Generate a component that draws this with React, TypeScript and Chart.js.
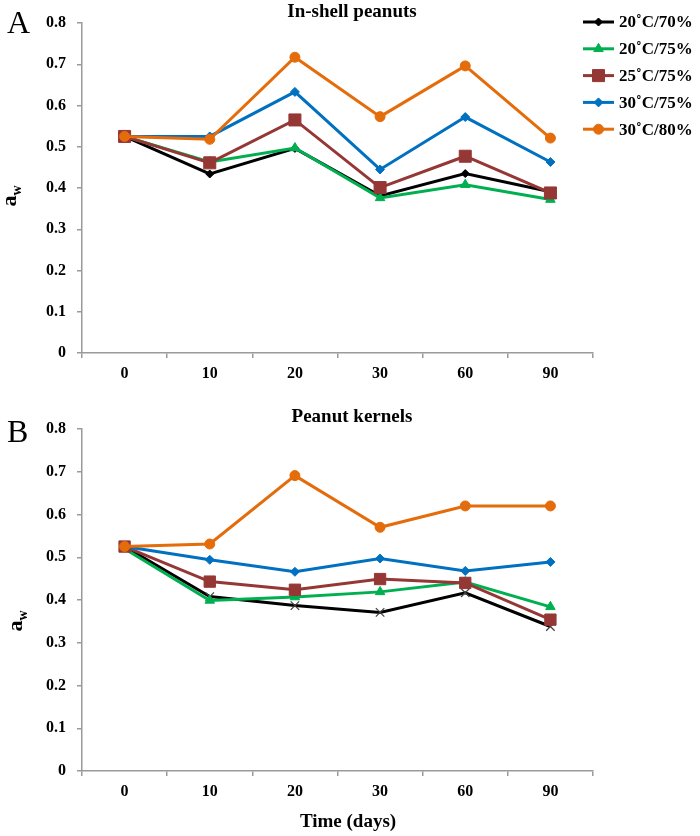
import React, { useEffect, useRef } from 'react';
import { Chart, registerables } from 'chart.js';
import { drawPoint } from 'chart.js/helpers';

Chart.register(...registerables);

// ---------- data ----------
const days = ['0', '10', '20', '30', '60', '90'];
const seriesNames = ['20˚C/70%', '20˚C/75%', '25˚C/75%', '30˚C/75%', '30˚C/80%'];

// In-shell peanuts
const shell2070 = [0.525, 0.434, 0.496, 0.381, 0.435, 0.391];
const shell2075 = [0.525, 0.463, 0.497, 0.376, 0.408, 0.372];
const shell2575 = [0.525, 0.461, 0.565, 0.401, 0.477, 0.388];
const shell3075 = [0.525, 0.525, 0.633, 0.445, 0.572, 0.463];
const shell3080 = [0.525, 0.518, 0.717, 0.573, 0.696, 0.521];

// Peanut kernels
const kernel2070 = [0.525, 0.408, 0.387, 0.371, 0.417, 0.338];
const kernel2075 = [0.52, 0.399, 0.407, 0.419, 0.442, 0.384];
const kernel2575 = [0.525, 0.443, 0.424, 0.449, 0.44, 0.354];
const kernel3075 = [0.525, 0.494, 0.466, 0.497, 0.468, 0.489];
const kernel3080 = [0.525, 0.531, 0.691, 0.57, 0.62, 0.62];

const yMin = 0;
const yMax = 0.8;
const yStep = 0.1;

// ---------- styles ----------
const seriesColors = ['#000000', '#00B050', '#953735', '#0070C0', '#E46C0A'];
const shellPointStyles = ['rectRot', 'triangle', 'rect', 'rectRot', 'circle'];
const shellPointRadii = [4, 5.5, 8.5, 4.5, 5];
const kernelPointStyles = ['crossRot', 'triangle', 'rect', 'rectRot', 'circle'];
const kernelPointRadii = [6, 5.5, 8, 4.5, 5];

const SERIF = '"Liberation Serif", "Times New Roman", serif';
const AXIS_COLOR = '#9a9a9a';

const decorPlugin = {
  id: 'decor',
  afterDraw(chart: any, _args: any, opts: any) {
    const ctx: CanvasRenderingContext2D = chart.ctx;
    ctx.save();
    ctx.fillStyle = '#000';

    // panel letter
    ctx.font = `32px ${SERIF}`;
    ctx.textAlign = 'left';
    ctx.textBaseline = 'alphabetic';
    ctx.fillText(opts.letter, opts.letterX, opts.letterY);

    // panel title
    ctx.font = `bold 19px ${SERIF}`;
    ctx.textAlign = 'center';
    ctx.textBaseline = 'middle';
    ctx.fillText(opts.title, opts.titleX, opts.titleY);

    // y-axis title a_w
    ctx.save();
    ctx.translate(opts.yTitleX, opts.yTitleY);
    ctx.rotate(-Math.PI / 2);
    ctx.textAlign = 'left';
    ctx.textBaseline = 'alphabetic';
    ctx.font = `bold 22px ${SERIF}`;
    const aW = ctx.measureText('a').width;
    ctx.font = `bold 14px ${SERIF}`;
    const wW = ctx.measureText('w').width;
    const start = -(aW + wW) / 2;
    ctx.font = `bold 22px ${SERIF}`;
    ctx.fillText('a', start, 0);
    ctx.font = `bold 14px ${SERIF}`;
    ctx.fillText('w', start + aW, 5);
    ctx.restore();

    // x-axis title
    if (opts.xTitle) {
      ctx.font = `bold 19px ${SERIF}`;
      ctx.textAlign = 'center';
      ctx.textBaseline = 'middle';
      ctx.fillText(opts.xTitle, opts.xTitleX, opts.xTitleY);
    }

    // legend
    if (opts.legend) {
      chart.data.datasets.forEach((ds: any, i: number) => {
        const y = opts.legendTop + i * opts.legendGap;
        ctx.strokeStyle = ds.borderColor;
        ctx.lineWidth = 3;
        ctx.beginPath();
        ctx.moveTo(opts.legendX0, y);
        ctx.lineTo(opts.legendX1, y);
        ctx.stroke();
        ctx.fillStyle = ds.pointBackgroundColor;
        ctx.strokeStyle = ds.pointBorderColor;
        ctx.lineWidth = ds.pointBorderWidth;
        drawPoint(
          ctx,
          { pointStyle: ds.pointStyle, rotation: 0, radius: ds.pointRadius, borderWidth: ds.pointBorderWidth } as any,
          (opts.legendX0 + opts.legendX1) / 2,
          y
        );
        ctx.fillStyle = '#000';
        ctx.font = `bold 17px ${SERIF}`;
        ctx.textAlign = 'left';
        ctx.textBaseline = 'middle';
        ctx.fillText(ds.label, opts.legendTextX, y + 1);
      });
    }
    ctx.restore();
  },
};

function makeConfig(series: number[][], pointStyles: string[], pointRadii: number[], padding: any, decor: any): any {
  const tickFont = { family: SERIF, weight: 'bold', size: 16 };
  return {
    type: 'line',
    data: {
      labels: days,
      datasets: series.map((d, i) => ({
        label: seriesNames[i],
        data: d,
        borderColor: seriesColors[i],
        backgroundColor: seriesColors[i],
        pointBackgroundColor: seriesColors[i],
        pointBorderColor: pointStyles[i] === 'crossRot' ? '#404040' : seriesColors[i],
        pointBorderWidth: pointStyles[i] === 'crossRot' ? 1.2 : 1,
        borderWidth: 3,
        pointStyle: pointStyles[i],
        pointRadius: pointRadii[i],
        tension: 0,
        order: series.length - i,
      })),
    },
    options: {
      responsive: false,
      animation: false,
      events: [],
      layout: { padding },
      plugins: {
        legend: { display: false },
        title: { display: false },
        tooltip: { enabled: false },
        decor,
      },
      scales: {
        x: {
          type: 'category',
          offset: true,
          grid: {
            display: true,
            offset: true,
            drawOnChartArea: false,
            drawTicks: true,
            tickLength: 5,
            color: AXIS_COLOR,
            lineWidth: 1.5,
          },
          border: { display: true, color: AXIS_COLOR, width: 1.5 },
          ticks: { color: '#000', font: tickFont, padding: 6, maxRotation: 0, autoSkip: false },
          afterFit: (s: any) => {
            s.height = 40;
          },
        },
        y: {
          min: yMin,
          max: yMax,
          grid: {
            display: true,
            drawOnChartArea: false,
            drawTicks: true,
            tickLength: 5,
            color: AXIS_COLOR,
            lineWidth: 1.5,
          },
          border: { display: true, color: AXIS_COLOR, width: 1.5 },
          ticks: {
            stepSize: yStep,
            color: '#000',
            font: tickFont,
            padding: 11,
            callback: (v: number) => String(Math.round(v * 10) / 10),
          },
          afterFit: (s: any) => {
            s.width = 82;
          },
        },
      },
    },
    plugins: [decorPlugin],
  };
}

function Panel({ top, height, build }: { top: number; height: number; build: () => any }) {
  const ref = useRef<HTMLCanvasElement>(null);
  useEffect(() => {
    const chart = new Chart(ref.current as HTMLCanvasElement, build());
    return () => chart.destroy();
  }, []);
  return (
    <canvas
      ref={ref}
      width={700}
      height={height}
      style={{ position: 'absolute', left: 0, top, width: 700, height }}
    />
  );
}

export default function App() {
  const buildA = () =>
    makeConfig(
      [shell2070, shell2075, shell2575, shell3075, shell3080],
      shellPointStyles,
      shellPointRadii,
      { top: 23, left: 0, right: 107, bottom: 7 },
      {
        letter: 'A',
        letterX: 7,
        letterY: 33,
        title: 'In-shell peanuts',
        titleX: 352,
        titleY: 12,
        yTitleX: 16,
        yTitleY: 196,
        legend: true,
        legendTop: 22,
        legendGap: 26.8,
        legendX0: 583,
        legendX1: 614,
        legendTextX: 619,
      }
    );
  const buildB = () =>
    makeConfig(
      [kernel2070, kernel2075, kernel2575, kernel3075, kernel3080],
      kernelPointStyles,
      kernelPointRadii,
      { top: 29, left: 0, right: 107, bottom: 25 },
      {
        letter: 'B',
        letterX: 7,
        letterY: 42,
        title: 'Peanut kernels',
        titleX: 352,
        titleY: 17,
        yTitleX: 22,
        yTitleY: 221,
        legend: false,
        xTitle: 'Time (days)',
        xTitleX: 348,
        xTitleY: 422,
      }
    );
  return (
    <div style={{ position: 'absolute', left: 0, top: 0, width: 700, height: 836, background: '#fff' }}>
      <Panel top={0} height={400} build={buildA} />
      <Panel top={400} height={436} build={buildB} />
    </div>
  );
}
